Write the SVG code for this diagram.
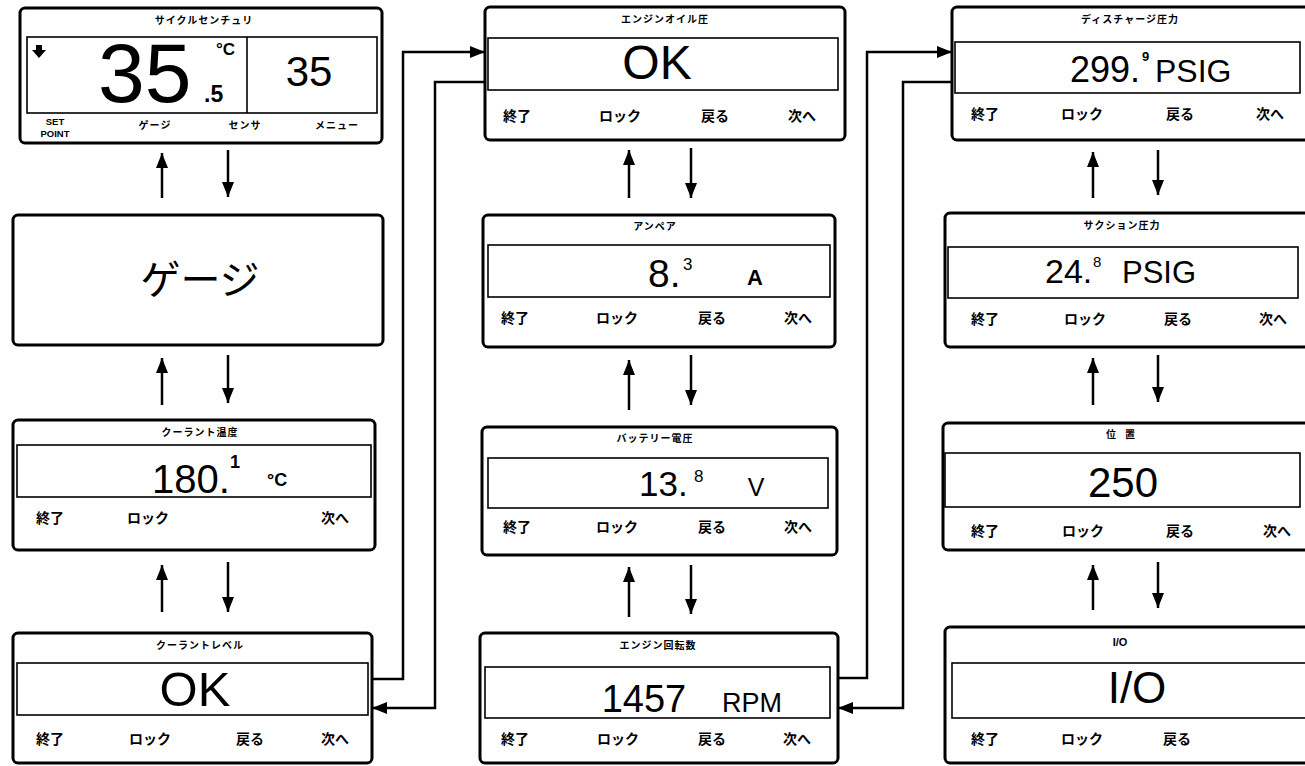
<svg xmlns="http://www.w3.org/2000/svg" width="1305" height="766" viewBox="0 0 1305 766">
<defs>
<style>
.panel{fill:#fff;stroke:#000;stroke-width:3}
.disp{fill:none;stroke:#000;stroke-width:1.6}
.title{font-family:"Noto Sans CJK JP",sans-serif;font-size:10px;font-weight:bold;text-anchor:middle;letter-spacing:1px}
.lbl{font-family:"Noto Sans CJK JP",sans-serif;font-size:14px;font-weight:bold;text-anchor:middle}
.num{font-family:"Liberation Sans",Arial,sans-serif;fill:#000}
.sup{font-family:"Liberation Sans",Arial,sans-serif;font-weight:bold}
.conn{fill:none;stroke:#000;stroke-width:2.5}
.va{fill:none;stroke:#000;stroke-width:2.5}
</style>
<marker id="ah" markerUnits="userSpaceOnUse" markerWidth="16" markerHeight="14" refX="15" refY="6" orient="auto">
<path d="M0,0 L15,6 L0,12 Z" fill="#000"/>
</marker>
</defs>
<rect width="1305" height="766" fill="#fff"/>

<g id="p1">
<rect class="panel" x="20" y="8" width="362" height="135" rx="5"/>
<text class="title" x="204" y="24">サイクルセンチュリ</text>
<rect class="disp" x="27" y="37" width="350" height="76"/>
<line x1="247" y1="37" x2="247" y2="113" stroke="#000" stroke-width="1.6"/>
<path d="M36,45 h6 v5 h4 l-7,8 l-7,-8 h4 z" fill="#000"/>
<text class="num" x="98" y="102" font-size="84">35</text>
<text class="sup" x="204" y="102" font-size="23">.5</text>
<text class="sup" x="216" y="55" font-size="17">°C</text>
<text class="num" x="309" y="86" font-size="42" text-anchor="middle">35</text>
<text class="sup" x="55" y="125" font-size="9.5" text-anchor="middle">SET</text>
<text class="sup" x="55" y="137" font-size="9.5" text-anchor="middle">POINT</text>
<text class="title" x="155" y="129">ゲージ</text>
<text class="title" x="245" y="129">センサ</text>
<text class="title" x="337" y="129">メニュー</text>
</g>

<g id="p2">
<rect class="panel" x="13" y="215" width="370" height="130" rx="5"/>
<text x="200" y="294" font-family="Noto Sans CJK JP,sans-serif" font-size="40" text-anchor="middle">ゲージ</text>
</g>

<g id="p3">
<rect class="panel" x="13" y="420" width="362" height="130" rx="5"/>
<text class="title" x="200" y="436">クーラント温度</text>
<rect class="disp" x="17" y="445" width="354" height="52"/>
<text class="num" x="152" y="493" font-size="40">180.</text>
<text class="sup" x="230" y="468" font-size="18">1</text>
<text class="sup" x="267" y="486" font-size="18">°C</text>
<text class="lbl" x="50" y="523">終了</text>
<text class="lbl" x="148" y="523">ロック</text>
<text class="lbl" x="335" y="523">次へ</text>
</g>

<g id="p4">
<rect class="panel" x="13" y="633" width="359" height="130" rx="5"/>
<text class="title" x="200" y="649">クーラントレベル</text>
<rect class="disp" x="17" y="663" width="351" height="52"/>
<text class="num" x="195" y="706" font-size="49" text-anchor="middle">OK</text>
<text class="lbl" x="50" y="744">終了</text>
<text class="lbl" x="150" y="744">ロック</text>
<text class="lbl" x="250" y="744">戻る</text>
<text class="lbl" x="335" y="744">次へ</text>
</g>

<g id="q1">
<rect class="panel" x="485" y="7" width="360" height="133" rx="5"/>
<text class="title" x="665" y="23">エンジンオイル圧</text>
<rect class="disp" x="488" y="38" width="350" height="52"/>
<text class="num" x="657" y="79" font-size="48" text-anchor="middle">OK</text>
<text class="lbl" x="517" y="121">終了</text>
<text class="lbl" x="620" y="121">ロック</text>
<text class="lbl" x="715" y="121">戻る</text>
<text class="lbl" x="802" y="121">次へ</text>
</g>

<g id="q2">
<rect class="panel" x="483" y="215" width="352" height="132" rx="5"/>
<text class="title" x="655" y="230">アンペア</text>
<rect class="disp" x="488" y="245" width="342" height="52"/>
<text class="num" x="648" y="287" font-size="39">8.</text>
<text class="num" x="683" y="270" font-size="17">3</text>
<text class="sup" x="755" y="285" font-size="22" text-anchor="middle">A</text>
<text class="lbl" x="515" y="323">終了</text>
<text class="lbl" x="617" y="323">ロック</text>
<text class="lbl" x="712" y="323">戻る</text>
<text class="lbl" x="798" y="323">次へ</text>
</g>

<g id="q3">
<rect class="panel" x="482" y="427" width="355" height="128" rx="5"/>
<text class="title" x="655" y="442">バッテリー電圧</text>
<rect class="disp" x="488" y="458" width="340" height="50"/>
<text class="num" x="639" y="496" font-size="35">13.</text>
<text class="num" x="694" y="482" font-size="17">8</text>
<text class="num" x="756" y="496" font-size="25" text-anchor="middle">V</text>
<text class="lbl" x="517" y="532">終了</text>
<text class="lbl" x="617" y="532">ロック</text>
<text class="lbl" x="712" y="532">戻る</text>
<text class="lbl" x="798" y="532">次へ</text>
</g>

<g id="q4">
<rect class="panel" x="480" y="633" width="358" height="130" rx="5"/>
<text class="title" x="658" y="649">エンジン回転数</text>
<rect class="disp" x="485" y="667" width="345" height="51"/>
<text class="num" x="644" y="712" font-size="38" text-anchor="middle">1457</text>
<text class="num" x="752" y="712" font-size="27" text-anchor="middle">RPM</text>
<text class="lbl" x="515" y="744">終了</text>
<text class="lbl" x="618" y="744">ロック</text>
<text class="lbl" x="712" y="744">戻る</text>
<text class="lbl" x="797" y="744">次へ</text>
</g>

<g id="r1">
<rect class="panel" x="952" y="7" width="370" height="133" rx="5"/>
<text class="title" x="1130" y="23">ディスチャージ圧力</text>
<rect class="disp" x="955" y="42" width="345" height="51"/>
<text class="num" x="1070" y="82" font-size="36">299.</text>
<text class="sup" x="1142" y="61" font-size="13">9</text>
<text class="num" x="1155" y="82" font-size="32">PSIG</text>
<text class="lbl" x="985" y="119">終了</text>
<text class="lbl" x="1082" y="119">ロック</text>
<text class="lbl" x="1180" y="119">戻る</text>
<text class="lbl" x="1270" y="119">次へ</text>
</g>

<g id="r2">
<rect class="panel" x="945" y="213" width="377" height="134" rx="5"/>
<text class="title" x="1122" y="229">サクション圧力</text>
<rect class="disp" x="948" y="247" width="350" height="51"/>
<text class="num" x="1045" y="283" font-size="34">24.</text>
<text class="num" x="1093" y="267" font-size="15">8</text>
<text class="num" x="1122" y="283" font-size="31">PSIG</text>
<text class="lbl" x="985" y="324">終了</text>
<text class="lbl" x="1085" y="324">ロック</text>
<text class="lbl" x="1178" y="324">戻る</text>
<text class="lbl" x="1273" y="324">次へ</text>
</g>

<g id="r3">
<rect class="panel" x="943" y="423" width="379" height="127" rx="5"/>
<text class="title" x="1125" y="438" style="letter-spacing:9px">位置</text>
<rect class="disp" x="945" y="453" width="355" height="54"/>
<text class="num" x="1123" y="497" font-size="42" text-anchor="middle">250</text>
<text class="lbl" x="985" y="536">終了</text>
<text class="lbl" x="1083" y="536">ロック</text>
<text class="lbl" x="1180" y="536">戻る</text>
<text class="lbl" x="1277" y="536">次へ</text>
</g>

<g id="r4">
<rect class="panel" x="945" y="627" width="377" height="136" rx="5"/>
<text class="sup" x="1120" y="646" font-size="11" text-anchor="middle">I/O</text>
<rect class="disp" x="952" y="663" width="360" height="55"/>
<text class="num" x="1137" y="703" font-size="44" text-anchor="middle">I/O</text>
<text class="lbl" x="985" y="744">終了</text>
<text class="lbl" x="1082" y="744">ロック</text>
<text class="lbl" x="1177" y="744">戻る</text>
</g>

<g id="connectors">
<path class="conn" d="M372,679 H403 V52 H485" marker-end="url(#ah)"/>
<path class="conn" d="M485,82 H435 V708 H372" marker-end="url(#ah)"/>
<path class="conn" d="M838,678 H867 V52 H952" marker-end="url(#ah)"/>
<path class="conn" d="M952,82 H903 V708 H838" marker-end="url(#ah)"/>

<line class="va" x1="162" y1="198" x2="162" y2="153" marker-end="url(#ah)"/>
<line class="va" x1="228" y1="150" x2="228" y2="197" marker-end="url(#ah)"/>
<line class="va" x1="162" y1="405" x2="162" y2="358" marker-end="url(#ah)"/>
<line class="va" x1="228" y1="355" x2="228" y2="403" marker-end="url(#ah)"/>
<line class="va" x1="162" y1="612" x2="162" y2="565" marker-end="url(#ah)"/>
<line class="va" x1="228" y1="562" x2="228" y2="612" marker-end="url(#ah)"/>

<line class="va" x1="629" y1="198" x2="629" y2="150" marker-end="url(#ah)"/>
<line class="va" x1="691" y1="148" x2="691" y2="198" marker-end="url(#ah)"/>
<line class="va" x1="629" y1="410" x2="629" y2="360" marker-end="url(#ah)"/>
<line class="va" x1="691" y1="355" x2="691" y2="405" marker-end="url(#ah)"/>
<line class="va" x1="629" y1="617" x2="629" y2="567" marker-end="url(#ah)"/>
<line class="va" x1="691" y1="565" x2="691" y2="614" marker-end="url(#ah)"/>

<line class="va" x1="1093" y1="198" x2="1093" y2="152" marker-end="url(#ah)"/>
<line class="va" x1="1158" y1="150" x2="1158" y2="195" marker-end="url(#ah)"/>
<line class="va" x1="1093" y1="405" x2="1093" y2="358" marker-end="url(#ah)"/>
<line class="va" x1="1158" y1="355" x2="1158" y2="402" marker-end="url(#ah)"/>
<line class="va" x1="1093" y1="610" x2="1093" y2="565" marker-end="url(#ah)"/>
<line class="va" x1="1158" y1="562" x2="1158" y2="608" marker-end="url(#ah)"/>
</g>
</svg>
